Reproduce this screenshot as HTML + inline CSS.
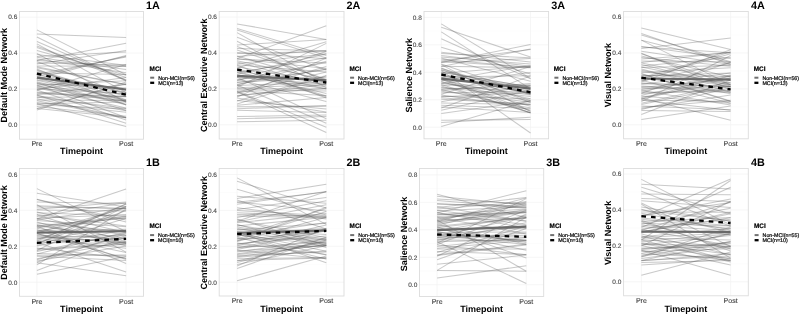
<!DOCTYPE html>
<html><head><meta charset="utf-8"><style>
html,body{margin:0;padding:0;background:#fff;width:800px;height:314px;overflow:hidden}
svg{display:block;filter:blur(0.3px)}
text{font-family:"Liberation Sans", sans-serif;text-rendering:geometricPrecision}
.tk{font-size:6.5px;fill:#4a4a4a;stroke:#4a4a4a;stroke-width:0.12px}
.tx{font-size:7px;fill:#444;stroke:#444;stroke-width:0.12px}
.ti{font-size:9px;font-weight:bold;fill:#000}
.lb{font-size:10.8px;font-weight:bold;fill:#000}
.lt{font-size:6.4px;font-weight:bold;fill:#000;stroke:#000;stroke-width:0.2px}
.le{font-size:5.3px;fill:#111;stroke:#111;stroke-width:0.24px}
</style></head><body>
<svg width="800" height="314" viewBox="0 0 800 314">
<rect width="800" height="314" fill="#fff"/>
<g><line x1="19.5" x2="143.5" y1="107.03" y2="107.03" stroke="#f8f8f8" stroke-width="0.5"/><line x1="19.5" x2="143.5" y1="71.07" y2="71.07" stroke="#f8f8f8" stroke-width="0.5"/><line x1="19.5" x2="143.5" y1="35.12" y2="35.12" stroke="#f8f8f8" stroke-width="0.5"/><line x1="19.5" x2="143.5" y1="125" y2="125" stroke="#f2f2f2" stroke-width="0.7"/><line x1="19.5" x2="143.5" y1="89.05" y2="89.05" stroke="#f2f2f2" stroke-width="0.7"/><line x1="19.5" x2="143.5" y1="53.1" y2="53.1" stroke="#f2f2f2" stroke-width="0.7"/><line x1="19.5" x2="143.5" y1="17.15" y2="17.15" stroke="#f2f2f2" stroke-width="0.7"/><line x1="36.9" x2="36.9" y1="11.5" y2="139.2" stroke="#f2f2f2" stroke-width="0.7"/><line x1="126.1" x2="126.1" y1="11.5" y2="139.2" stroke="#f2f2f2" stroke-width="0.7"/><g stroke="#5a5a5a" stroke-opacity="0.33" stroke-width="1.05" fill="none"><path d="M36.9 29.9L126.1 74.7"/><path d="M36.9 34.1L126.1 37.4"/><path d="M36.9 37L126.1 81"/><path d="M36.9 41.6L126.1 80"/><path d="M36.9 60.4L126.1 43.2"/><path d="M36.9 110L126.1 82"/><path d="M36.9 103.8L126.1 126.6"/><path d="M36.9 95L126.1 123.3"/><path d="M36.9 90L126.1 120"/><path d="M36.9 85L126.1 117.5"/><path d="M36.9 43.9L126.1 92.5"/><path d="M36.9 46L126.1 80.3"/><path d="M36.9 47.6L126.1 77.5"/><path d="M36.9 50.6L126.1 75.2"/><path d="M36.9 53.4L126.1 102.2"/><path d="M36.9 54.5L126.1 65.3"/><path d="M36.9 56.4L126.1 51.9"/><path d="M36.9 57.3L126.1 69.5"/><path d="M36.9 59.1L126.1 72.8"/><path d="M36.9 60.4L126.1 66.5"/><path d="M36.9 61.4L126.1 94.4"/><path d="M36.9 62.9L126.1 65.1"/><path d="M36.9 63.9L126.1 50.6"/><path d="M36.9 66L126.1 66.3"/><path d="M36.9 66.7L126.1 84.6"/><path d="M36.9 67.8L126.1 84.7"/><path d="M36.9 69.1L126.1 104.9"/><path d="M36.9 70.1L126.1 96.4"/><path d="M36.9 70.7L126.1 99.8"/><path d="M36.9 72.3L126.1 92.6"/><path d="M36.9 73L126.1 74.5"/><path d="M36.9 74.3L126.1 57"/><path d="M36.9 74.6L126.1 90.5"/><path d="M36.9 75.7L126.1 100.7"/><path d="M36.9 76.3L126.1 56.2"/><path d="M36.9 78L126.1 101.6"/><path d="M36.9 78.7L126.1 55.4"/><path d="M36.9 79.8L126.1 92.6"/><path d="M36.9 80.3L126.1 100"/><path d="M36.9 81.7L126.1 104.2"/><path d="M36.9 82.5L126.1 110.5"/><path d="M36.9 83.5L126.1 104.8"/><path d="M36.9 83.7L126.1 87.9"/><path d="M36.9 85.3L126.1 80.8"/><path d="M36.9 86.3L126.1 94"/><path d="M36.9 87.1L126.1 101.8"/><path d="M36.9 87.7L126.1 107.9"/><path d="M36.9 88.8L126.1 94"/><path d="M36.9 89.4L126.1 77.4"/><path d="M36.9 90.3L126.1 64.4"/><path d="M36.9 91.9L126.1 100.7"/><path d="M36.9 92.7L126.1 96.5"/><path d="M36.9 93.9L126.1 96.6"/><path d="M36.9 94.3L126.1 84.5"/><path d="M36.9 95.5L126.1 110.8"/><path d="M36.9 96.9L126.1 108.4"/><path d="M36.9 97.3L126.1 96.8"/><path d="M36.9 98.8L126.1 117.7"/><path d="M36.9 99.9L126.1 100.5"/><path d="M36.9 100.8L126.1 117.9"/><path d="M36.9 102.6L126.1 112.3"/><path d="M36.9 103.7L126.1 101.9"/><path d="M36.9 104.7L126.1 109"/><path d="M36.9 106.6L126.1 116.2"/><path d="M36.9 108.4L126.1 117.5"/><path d="M36.9 108.6L126.1 83.6"/></g><line x1="36.9" x2="126.1" y1="77.6" y2="89.5" stroke="#6a6a6a" stroke-width="2.2"/><line x1="36.9" x2="126.1" y1="73.6" y2="94.75" stroke="#000" stroke-width="2.3" stroke-dasharray="4.6 5.05"/><rect x="19.5" y="11.5" width="124" height="127.7" fill="none" stroke="#dcdcdc" stroke-width="0.9"/><text x="17.3" y="127.3" text-anchor="end" class="tk">0.0</text><text x="17.3" y="91.35" text-anchor="end" class="tk">0.2</text><text x="17.3" y="55.4" text-anchor="end" class="tk">0.4</text><text x="17.3" y="19.45" text-anchor="end" class="tk">0.6</text><text x="36.9" y="146" text-anchor="middle" class="tx">Pre</text><text x="126.1" y="146" text-anchor="middle" class="tx">Post</text><text x="81.5" y="154.2" text-anchor="middle" class="ti">Timepoint</text><text transform="translate(7.3 75.35) rotate(-90)" text-anchor="middle" class="ti">Default Mode Network</text><text x="146.1" y="8.9" class="lb">1A</text><text x="149.6" y="70.7" class="lt">MCI</text><line x1="150.2" x2="154.2" y1="77.7" y2="77.7" stroke="#707070" stroke-width="2"/><line x1="150.2" x2="154.2" y1="82.8" y2="82.8" stroke="#000" stroke-width="2.3"/><text x="158.2" y="79.7" class="le">Non-MCI(n=56)</text><text x="158.2" y="84.8" class="le">MCI(n=13)</text></g><g><line x1="219.2" x2="344" y1="106.85" y2="106.85" stroke="#f8f8f8" stroke-width="0.5"/><line x1="219.2" x2="344" y1="70.95" y2="70.95" stroke="#f8f8f8" stroke-width="0.5"/><line x1="219.2" x2="344" y1="35.05" y2="35.05" stroke="#f8f8f8" stroke-width="0.5"/><line x1="219.2" x2="344" y1="124.8" y2="124.8" stroke="#f2f2f2" stroke-width="0.7"/><line x1="219.2" x2="344" y1="88.9" y2="88.9" stroke="#f2f2f2" stroke-width="0.7"/><line x1="219.2" x2="344" y1="53" y2="53" stroke="#f2f2f2" stroke-width="0.7"/><line x1="219.2" x2="344" y1="17.1" y2="17.1" stroke="#f2f2f2" stroke-width="0.7"/><line x1="237.1" x2="237.1" y1="11.5" y2="139" stroke="#f2f2f2" stroke-width="0.7"/><line x1="326.3" x2="326.3" y1="11.5" y2="139" stroke="#f2f2f2" stroke-width="0.7"/><g stroke="#5a5a5a" stroke-opacity="0.33" stroke-width="1.05" fill="none"><path d="M237.1 23.9L326.3 39.5"/><path d="M237.1 58.6L326.3 25.8"/><path d="M237.1 28.5L326.3 55.4"/><path d="M237.1 30L326.3 58"/><path d="M237.1 32.6L326.3 83.6"/><path d="M237.1 37.2L326.3 70"/><path d="M237.1 121.8L326.3 120.3"/><path d="M237.1 118.8L326.3 116.5"/><path d="M237.1 116.5L326.3 115"/><path d="M237.1 91.7L326.3 132.5"/><path d="M237.1 91.4L326.3 127.2"/><path d="M237.1 85L326.3 123.3"/><path d="M237.1 41.2L326.3 87.6"/><path d="M237.1 44.9L326.3 39.4"/><path d="M237.1 46.4L326.3 80.2"/><path d="M237.1 48.5L326.3 50.8"/><path d="M237.1 49.9L326.3 79.3"/><path d="M237.1 52.5L326.3 58.8"/><path d="M237.1 53.4L326.3 51.4"/><path d="M237.1 56L326.3 82"/><path d="M237.1 56.4L326.3 50.4"/><path d="M237.1 58.8L326.3 68.4"/><path d="M237.1 59L326.3 63"/><path d="M237.1 60.7L326.3 80.1"/><path d="M237.1 62.1L326.3 85.8"/><path d="M237.1 63.7L326.3 53.8"/><path d="M237.1 64.8L326.3 72.1"/><path d="M237.1 65.3L326.3 98"/><path d="M237.1 66.8L326.3 82.6"/><path d="M237.1 68.1L326.3 41.7"/><path d="M237.1 68.4L326.3 96"/><path d="M237.1 70.2L326.3 88.7"/><path d="M237.1 71.2L326.3 96.7"/><path d="M237.1 72.4L326.3 93.6"/><path d="M237.1 72.6L326.3 57.8"/><path d="M237.1 74.2L326.3 53.9"/><path d="M237.1 74.9L326.3 86.9"/><path d="M237.1 76.4L326.3 88.7"/><path d="M237.1 77.2L326.3 118.8"/><path d="M237.1 77.4L326.3 83.9"/><path d="M237.1 79.3L326.3 101.5"/><path d="M237.1 80.2L326.3 62.4"/><path d="M237.1 80.7L326.3 51.5"/><path d="M237.1 82.3L326.3 77.3"/><path d="M237.1 82.5L326.3 69.4"/><path d="M237.1 84.3L326.3 69.1"/><path d="M237.1 85L326.3 61.3"/><path d="M237.1 85.4L326.3 82.5"/><path d="M237.1 87.3L326.3 43.4"/><path d="M237.1 87.8L326.3 84.4"/><path d="M237.1 88.6L326.3 89"/><path d="M237.1 89.8L326.3 91.1"/><path d="M237.1 90.9L326.3 95.5"/><path d="M237.1 92.4L326.3 66.4"/><path d="M237.1 93.4L326.3 72"/><path d="M237.1 95.4L326.3 88.2"/><path d="M237.1 96L326.3 84.3"/><path d="M237.1 96.9L326.3 58.1"/><path d="M237.1 98.1L326.3 112.1"/><path d="M237.1 100.5L326.3 109.1"/><path d="M237.1 101.1L326.3 75.6"/><path d="M237.1 104L326.3 76"/><path d="M237.1 105.3L326.3 97.4"/><path d="M237.1 106.8L326.3 106.2"/><path d="M237.1 108.8L326.3 105.6"/><path d="M237.1 110.3L326.3 112.5"/></g><line x1="237.1" x2="326.3" y1="75.8" y2="80.3" stroke="#6a6a6a" stroke-width="2.2"/><line x1="237.1" x2="326.3" y1="69.6" y2="82.5" stroke="#000" stroke-width="2.3" stroke-dasharray="4.6 5.05"/><rect x="219.2" y="11.5" width="124.8" height="127.5" fill="none" stroke="#dcdcdc" stroke-width="0.9"/><text x="217" y="127.1" text-anchor="end" class="tk">0.0</text><text x="217" y="91.2" text-anchor="end" class="tk">0.2</text><text x="217" y="55.3" text-anchor="end" class="tk">0.4</text><text x="217" y="19.4" text-anchor="end" class="tk">0.6</text><text x="237.1" y="145.8" text-anchor="middle" class="tx">Pre</text><text x="326.3" y="145.8" text-anchor="middle" class="tx">Post</text><text x="281.6" y="154" text-anchor="middle" class="ti">Timepoint</text><text transform="translate(207 75.25) rotate(-90)" text-anchor="middle" class="ti">Central Executive Network</text><text x="346.6" y="8.9" class="lb">2A</text><text x="349.5" y="70.7" class="lt">MCI</text><line x1="350.1" x2="354.1" y1="77.7" y2="77.7" stroke="#707070" stroke-width="2"/><line x1="350.1" x2="354.1" y1="82.8" y2="82.8" stroke="#000" stroke-width="2.3"/><text x="358.1" y="79.7" class="le">Non-MCI(n=56)</text><text x="358.1" y="84.8" class="le">MCI(n=13)</text></g><g><line x1="424" x2="548.6" y1="113.48" y2="113.48" stroke="#f8f8f8" stroke-width="0.5"/><line x1="424" x2="548.6" y1="86.03" y2="86.03" stroke="#f8f8f8" stroke-width="0.5"/><line x1="424" x2="548.6" y1="58.58" y2="58.58" stroke="#f8f8f8" stroke-width="0.5"/><line x1="424" x2="548.6" y1="31.12" y2="31.12" stroke="#f8f8f8" stroke-width="0.5"/><line x1="424" x2="548.6" y1="127.2" y2="127.2" stroke="#f2f2f2" stroke-width="0.7"/><line x1="424" x2="548.6" y1="99.75" y2="99.75" stroke="#f2f2f2" stroke-width="0.7"/><line x1="424" x2="548.6" y1="72.3" y2="72.3" stroke="#f2f2f2" stroke-width="0.7"/><line x1="424" x2="548.6" y1="44.85" y2="44.85" stroke="#f2f2f2" stroke-width="0.7"/><line x1="424" x2="548.6" y1="17.4" y2="17.4" stroke="#f2f2f2" stroke-width="0.7"/><line x1="441.3" x2="441.3" y1="11.5" y2="138.8" stroke="#f2f2f2" stroke-width="0.7"/><line x1="530.5" x2="530.5" y1="11.5" y2="138.8" stroke="#f2f2f2" stroke-width="0.7"/><g stroke="#5a5a5a" stroke-opacity="0.33" stroke-width="1.05" fill="none"><path d="M441.3 23.9L530.5 78.4"/><path d="M441.3 27.3L530.5 57.1"/><path d="M441.3 31.9L530.5 88.9"/><path d="M441.3 38.8L530.5 78.8"/><path d="M441.3 47.2L530.5 74"/><path d="M441.3 62.5L530.5 44.6"/><path d="M441.3 61L530.5 49.5"/><path d="M441.3 70.6L530.5 133"/><path d="M441.3 126.4L530.5 100.6"/><path d="M441.3 120.3L530.5 119.5"/><path d="M441.3 122.6L530.5 117.2"/><path d="M441.3 113.4L530.5 101"/><path d="M441.3 110.3L530.5 90"/><path d="M441.3 52.3L530.5 62.1"/><path d="M441.3 53.5L530.5 57.8"/><path d="M441.3 55.4L530.5 66.2"/><path d="M441.3 57L530.5 64.1"/><path d="M441.3 58.1L530.5 81.3"/><path d="M441.3 59.3L530.5 67.6"/><path d="M441.3 61.2L530.5 67.3"/><path d="M441.3 62.5L530.5 58.6"/><path d="M441.3 64L530.5 94.2"/><path d="M441.3 64.6L530.5 111.6"/><path d="M441.3 66.3L530.5 67.7"/><path d="M441.3 66.5L530.5 48.9"/><path d="M441.3 68L530.5 102.6"/><path d="M441.3 68.4L530.5 94.5"/><path d="M441.3 69.5L530.5 100.8"/><path d="M441.3 70.3L530.5 92.1"/><path d="M441.3 71.9L530.5 87.1"/><path d="M441.3 72.5L530.5 87"/><path d="M441.3 73.3L530.5 66.3"/><path d="M441.3 74.4L530.5 87.8"/><path d="M441.3 75.3L530.5 93.7"/><path d="M441.3 75.6L530.5 93.4"/><path d="M441.3 76.9L530.5 75.8"/><path d="M441.3 77.2L530.5 92.9"/><path d="M441.3 78.3L530.5 110.9"/><path d="M441.3 79.2L530.5 112.9"/><path d="M441.3 79.7L530.5 98.8"/><path d="M441.3 80.7L530.5 65.5"/><path d="M441.3 81.6L530.5 106.2"/><path d="M441.3 81.9L530.5 101.4"/><path d="M441.3 83.2L530.5 94.9"/><path d="M441.3 83.6L530.5 72.6"/><path d="M441.3 84.5L530.5 112.8"/><path d="M441.3 85.3L530.5 84.9"/><path d="M441.3 86.1L530.5 112.8"/><path d="M441.3 87.6L530.5 96.4"/><path d="M441.3 88L530.5 89.9"/><path d="M441.3 89.3L530.5 85.2"/><path d="M441.3 89.5L530.5 109.9"/><path d="M441.3 90.6L530.5 83.5"/><path d="M441.3 91.3L530.5 102.3"/><path d="M441.3 92.7L530.5 91.5"/><path d="M441.3 94.2L530.5 66.4"/><path d="M441.3 94.9L530.5 107.7"/><path d="M441.3 96.2L530.5 98.9"/><path d="M441.3 96.7L530.5 92.7"/><path d="M441.3 97.8L530.5 104.7"/><path d="M441.3 99.3L530.5 104"/><path d="M441.3 101.8L530.5 85.4"/><path d="M441.3 103L530.5 104.5"/><path d="M441.3 105.3L530.5 108.4"/><path d="M441.3 107L530.5 112.4"/><path d="M441.3 108.1L530.5 76.1"/></g><line x1="441.3" x2="530.5" y1="78.6" y2="88.6" stroke="#6a6a6a" stroke-width="2.2"/><line x1="441.3" x2="530.5" y1="74.5" y2="92.3" stroke="#000" stroke-width="2.3" stroke-dasharray="4.6 5.05"/><rect x="424" y="11.5" width="124.6" height="127.3" fill="none" stroke="#dcdcdc" stroke-width="0.9"/><text x="421.8" y="129.5" text-anchor="end" class="tk">0.0</text><text x="421.8" y="102.05" text-anchor="end" class="tk">0.2</text><text x="421.8" y="74.6" text-anchor="end" class="tk">0.4</text><text x="421.8" y="47.15" text-anchor="end" class="tk">0.6</text><text x="421.8" y="19.7" text-anchor="end" class="tk">0.8</text><text x="441.3" y="145.6" text-anchor="middle" class="tx">Pre</text><text x="530.5" y="145.6" text-anchor="middle" class="tx">Post</text><text x="486.3" y="153.8" text-anchor="middle" class="ti">Timepoint</text><text transform="translate(411.8 75.15) rotate(-90)" text-anchor="middle" class="ti">Salience Network</text><text x="551.2" y="8.9" class="lb">3A</text><text x="553.8" y="70.7" class="lt">MCI</text><line x1="554.4" x2="558.4" y1="77.7" y2="77.7" stroke="#707070" stroke-width="2"/><line x1="554.4" x2="558.4" y1="82.8" y2="82.8" stroke="#000" stroke-width="2.3"/><text x="562.4" y="79.7" class="le">Non-MCI(n=56)</text><text x="562.4" y="84.8" class="le">MCI(n=13)</text></g><g><line x1="623.6" x2="748.3" y1="106.85" y2="106.85" stroke="#f8f8f8" stroke-width="0.5"/><line x1="623.6" x2="748.3" y1="70.95" y2="70.95" stroke="#f8f8f8" stroke-width="0.5"/><line x1="623.6" x2="748.3" y1="35.05" y2="35.05" stroke="#f8f8f8" stroke-width="0.5"/><line x1="623.6" x2="748.3" y1="124.8" y2="124.8" stroke="#f2f2f2" stroke-width="0.7"/><line x1="623.6" x2="748.3" y1="88.9" y2="88.9" stroke="#f2f2f2" stroke-width="0.7"/><line x1="623.6" x2="748.3" y1="53" y2="53" stroke="#f2f2f2" stroke-width="0.7"/><line x1="623.6" x2="748.3" y1="17.1" y2="17.1" stroke="#f2f2f2" stroke-width="0.7"/><line x1="641.4" x2="641.4" y1="11.5" y2="138.8" stroke="#f2f2f2" stroke-width="0.7"/><line x1="730.6" x2="730.6" y1="11.5" y2="138.8" stroke="#f2f2f2" stroke-width="0.7"/><g stroke="#5a5a5a" stroke-opacity="0.33" stroke-width="1.05" fill="none"><path d="M641.4 28.1L730.6 49.5"/><path d="M641.4 48.4L730.6 38"/><path d="M641.4 33.4L730.6 64.6"/><path d="M641.4 35L730.6 61.7"/><path d="M641.4 40.3L730.6 62.5"/><path d="M641.4 119.5L730.6 106"/><path d="M641.4 114.6L730.6 80"/><path d="M641.4 98L730.6 120.3"/><path d="M641.4 100L730.6 110.3"/><path d="M641.4 40.1L730.6 84.9"/><path d="M641.4 46.5L730.6 58.6"/><path d="M641.4 47.1L730.6 52.7"/><path d="M641.4 51.3L730.6 64.5"/><path d="M641.4 53.2L730.6 89.6"/><path d="M641.4 53.8L730.6 84.8"/><path d="M641.4 56L730.6 77"/><path d="M641.4 57.5L730.6 66.3"/><path d="M641.4 59L730.6 52.8"/><path d="M641.4 61L730.6 62"/><path d="M641.4 62.4L730.6 52"/><path d="M641.4 62.9L730.6 80.6"/><path d="M641.4 64.5L730.6 86"/><path d="M641.4 65.9L730.6 57.5"/><path d="M641.4 67L730.6 84.7"/><path d="M641.4 67.6L730.6 65.6"/><path d="M641.4 69L730.6 92.3"/><path d="M641.4 70.2L730.6 86.8"/><path d="M641.4 71.6L730.6 83"/><path d="M641.4 72.6L730.6 67.7"/><path d="M641.4 73.4L730.6 101"/><path d="M641.4 74L730.6 101.5"/><path d="M641.4 75.6L730.6 76.3"/><path d="M641.4 75.9L730.6 73.1"/><path d="M641.4 77L730.6 93.8"/><path d="M641.4 77.8L730.6 51.9"/><path d="M641.4 79.1L730.6 53.7"/><path d="M641.4 80.2L730.6 103.3"/><path d="M641.4 81.1L730.6 63.3"/><path d="M641.4 82.1L730.6 49.7"/><path d="M641.4 82.9L730.6 86.5"/><path d="M641.4 83.8L730.6 86.5"/><path d="M641.4 84.3L730.6 72.9"/><path d="M641.4 85.9L730.6 90.8"/><path d="M641.4 86.8L730.6 92.6"/><path d="M641.4 87.5L730.6 79.1"/><path d="M641.4 88.7L730.6 86.8"/><path d="M641.4 89.5L730.6 78.1"/><path d="M641.4 90.5L730.6 105.1"/><path d="M641.4 91.3L730.6 75"/><path d="M641.4 92.3L730.6 91.7"/><path d="M641.4 93.2L730.6 62"/><path d="M641.4 93.6L730.6 89.7"/><path d="M641.4 95.3L730.6 76.2"/><path d="M641.4 95.9L730.6 103.3"/><path d="M641.4 97.2L730.6 82.3"/><path d="M641.4 98.6L730.6 75.6"/><path d="M641.4 99.2L730.6 78"/><path d="M641.4 100.1L730.6 101.6"/><path d="M641.4 101.6L730.6 55.5"/><path d="M641.4 103.2L730.6 83.7"/><path d="M641.4 104.4L730.6 86"/><path d="M641.4 105.9L730.6 109.8"/><path d="M641.4 107.2L730.6 100.2"/><path d="M641.4 108.5L730.6 94.9"/><path d="M641.4 109.5L730.6 87.5"/><path d="M641.4 110.6L730.6 111.4"/></g><line x1="641.4" x2="730.6" y1="78.5" y2="79.6" stroke="#6a6a6a" stroke-width="2.2"/><line x1="641.4" x2="730.6" y1="77.7" y2="89.4" stroke="#000" stroke-width="2.3" stroke-dasharray="4.6 5.05"/><rect x="623.6" y="11.5" width="124.7" height="127.3" fill="none" stroke="#dcdcdc" stroke-width="0.9"/><text x="621.4" y="127.1" text-anchor="end" class="tk">0.0</text><text x="621.4" y="91.2" text-anchor="end" class="tk">0.2</text><text x="621.4" y="55.3" text-anchor="end" class="tk">0.4</text><text x="621.4" y="19.4" text-anchor="end" class="tk">0.6</text><text x="641.4" y="145.6" text-anchor="middle" class="tx">Pre</text><text x="730.6" y="145.6" text-anchor="middle" class="tx">Post</text><text x="685.95" y="153.8" text-anchor="middle" class="ti">Timepoint</text><text transform="translate(611.4 75.15) rotate(-90)" text-anchor="middle" class="ti">Visual Network</text><text x="750.9" y="8.9" class="lb">4A</text><text x="753.8" y="70.7" class="lt">MCI</text><line x1="754.4" x2="758.4" y1="77.7" y2="77.7" stroke="#707070" stroke-width="2"/><line x1="754.4" x2="758.4" y1="82.8" y2="82.8" stroke="#000" stroke-width="2.3"/><text x="762.4" y="79.7" class="le">Non-MCI(n=56)</text><text x="762.4" y="84.8" class="le">MCI(n=13)</text></g><g><line x1="19.5" x2="143.5" y1="264.22" y2="264.22" stroke="#f8f8f8" stroke-width="0.5"/><line x1="19.5" x2="143.5" y1="228.27" y2="228.27" stroke="#f8f8f8" stroke-width="0.5"/><line x1="19.5" x2="143.5" y1="192.32" y2="192.32" stroke="#f8f8f8" stroke-width="0.5"/><line x1="19.5" x2="143.5" y1="282.2" y2="282.2" stroke="#f2f2f2" stroke-width="0.7"/><line x1="19.5" x2="143.5" y1="246.25" y2="246.25" stroke="#f2f2f2" stroke-width="0.7"/><line x1="19.5" x2="143.5" y1="210.3" y2="210.3" stroke="#f2f2f2" stroke-width="0.7"/><line x1="19.5" x2="143.5" y1="174.35" y2="174.35" stroke="#f2f2f2" stroke-width="0.7"/><line x1="36.9" x2="36.9" y1="168.5" y2="296.3" stroke="#f2f2f2" stroke-width="0.7"/><line x1="126.1" x2="126.1" y1="168.5" y2="296.3" stroke="#f2f2f2" stroke-width="0.7"/><g stroke="#5a5a5a" stroke-opacity="0.33" stroke-width="1.05" fill="none"><path d="M36.9 188.6L126.1 231.5"/><path d="M36.9 193.2L126.1 206.9"/><path d="M36.9 219L126.1 188.9"/><path d="M36.9 199.6L126.1 222"/><path d="M36.9 274.2L126.1 256.6"/><path d="M36.9 270.4L126.1 237"/><path d="M36.9 262.8L126.1 275.8"/><path d="M36.9 242.4L126.1 271.9"/><path d="M36.9 226L126.1 263.5"/><path d="M36.9 199.3L126.1 219.9"/><path d="M36.9 202.1L126.1 203.5"/><path d="M36.9 204.7L126.1 252.1"/><path d="M36.9 205.8L126.1 208.7"/><path d="M36.9 207L126.1 208.3"/><path d="M36.9 209.2L126.1 202"/><path d="M36.9 210.1L126.1 211"/><path d="M36.9 211.9L126.1 232.6"/><path d="M36.9 212.7L126.1 215.9"/><path d="M36.9 214.6L126.1 226.1"/><path d="M36.9 215L126.1 241.7"/><path d="M36.9 216.4L126.1 202.7"/><path d="M36.9 218.2L126.1 214.4"/><path d="M36.9 218.4L126.1 235.4"/><path d="M36.9 219.8L126.1 207.8"/><path d="M36.9 220.6L126.1 226.8"/><path d="M36.9 221.9L126.1 246"/><path d="M36.9 223L126.1 231.8"/><path d="M36.9 224.4L126.1 242.7"/><path d="M36.9 225.4L126.1 238.3"/><path d="M36.9 225.7L126.1 217.8"/><path d="M36.9 227.1L126.1 216"/><path d="M36.9 227.7L126.1 218.1"/><path d="M36.9 228.3L126.1 242.8"/><path d="M36.9 229.4L126.1 259.5"/><path d="M36.9 230.4L126.1 229.2"/><path d="M36.9 231.3L126.1 216.4"/><path d="M36.9 232.8L126.1 207.9"/><path d="M36.9 233.5L126.1 258.5"/><path d="M36.9 233.8L126.1 252.4"/><path d="M36.9 235.1L126.1 239.1"/><path d="M36.9 235.8L126.1 242.9"/><path d="M36.9 236.7L126.1 243"/><path d="M36.9 238.1L126.1 235.2"/><path d="M36.9 238.3L126.1 248.3"/><path d="M36.9 239.8L126.1 206.3"/><path d="M36.9 240.9L126.1 204"/><path d="M36.9 241L126.1 238.6"/><path d="M36.9 242.3L126.1 243.5"/><path d="M36.9 243.7L126.1 210.5"/><path d="M36.9 244L126.1 204"/><path d="M36.9 245.3L126.1 218.3"/><path d="M36.9 246.1L126.1 230"/><path d="M36.9 247.9L126.1 258.3"/><path d="M36.9 248.8L126.1 243.9"/><path d="M36.9 249.9L126.1 244.2"/><path d="M36.9 250.5L126.1 206.4"/><path d="M36.9 251.4L126.1 232.9"/><path d="M36.9 253.5L126.1 256"/><path d="M36.9 253.9L126.1 231.9"/><path d="M36.9 255.2L126.1 255"/><path d="M36.9 256.3L126.1 260.4"/><path d="M36.9 258.8L126.1 241.3"/><path d="M36.9 259.7L126.1 235.8"/><path d="M36.9 260.9L126.1 245.9"/><path d="M36.9 262.3L126.1 233.8"/><path d="M36.9 264.9L126.1 209"/></g><line x1="36.9" x2="126.1" y1="232.7" y2="231.2" stroke="#6a6a6a" stroke-width="2.2"/><line x1="36.9" x2="126.1" y1="242.9" y2="238.9" stroke="#000" stroke-width="2.3" stroke-dasharray="4.6 5.05"/><rect x="19.5" y="168.5" width="124" height="127.8" fill="none" stroke="#dcdcdc" stroke-width="0.9"/><text x="17.3" y="284.5" text-anchor="end" class="tk">0.0</text><text x="17.3" y="248.55" text-anchor="end" class="tk">0.2</text><text x="17.3" y="212.6" text-anchor="end" class="tk">0.4</text><text x="17.3" y="176.65" text-anchor="end" class="tk">0.6</text><text x="36.9" y="303.5" text-anchor="middle" class="tx">Pre</text><text x="126.1" y="303.5" text-anchor="middle" class="tx">Post</text><text x="81.5" y="312.1" text-anchor="middle" class="ti">Timepoint</text><text transform="translate(7.3 232.4) rotate(-90)" text-anchor="middle" class="ti">Default Mode Network</text><text x="146.1" y="165.9" class="lb">1B</text><text x="149.5" y="228.1" class="lt">MCI</text><line x1="150.1" x2="154.1" y1="235.1" y2="235.1" stroke="#707070" stroke-width="2"/><line x1="150.1" x2="154.1" y1="240.2" y2="240.2" stroke="#000" stroke-width="2.3"/><text x="158.1" y="237.1" class="le">Non-MCI(n=55)</text><text x="158.1" y="242.2" class="le">MCI(n=10)</text></g><g><line x1="219.2" x2="344" y1="264.25" y2="264.25" stroke="#f8f8f8" stroke-width="0.5"/><line x1="219.2" x2="344" y1="228.35" y2="228.35" stroke="#f8f8f8" stroke-width="0.5"/><line x1="219.2" x2="344" y1="192.45" y2="192.45" stroke="#f8f8f8" stroke-width="0.5"/><line x1="219.2" x2="344" y1="282.2" y2="282.2" stroke="#f2f2f2" stroke-width="0.7"/><line x1="219.2" x2="344" y1="246.3" y2="246.3" stroke="#f2f2f2" stroke-width="0.7"/><line x1="219.2" x2="344" y1="210.4" y2="210.4" stroke="#f2f2f2" stroke-width="0.7"/><line x1="219.2" x2="344" y1="174.5" y2="174.5" stroke="#f2f2f2" stroke-width="0.7"/><line x1="237.1" x2="237.1" y1="168.5" y2="296" stroke="#f2f2f2" stroke-width="0.7"/><line x1="326.3" x2="326.3" y1="168.5" y2="296" stroke="#f2f2f2" stroke-width="0.7"/><g stroke="#5a5a5a" stroke-opacity="0.33" stroke-width="1.05" fill="none"><path d="M237.1 177.9L326.3 224.4"/><path d="M237.1 181.2L326.3 208"/><path d="M237.1 198.4L326.3 184.3"/><path d="M237.1 202.3L326.3 192"/><path d="M237.1 280.8L326.3 255.9"/><path d="M237.1 268.6L326.3 237.2"/><path d="M237.1 232L326.3 262.8"/><path d="M237.1 189.3L326.3 215"/><path d="M237.1 196.3L326.3 203.3"/><path d="M237.1 200L326.3 229"/><path d="M237.1 201.9L326.3 211.1"/><path d="M237.1 204.2L326.3 191.6"/><path d="M237.1 207.7L326.3 219"/><path d="M237.1 209.4L326.3 197.5"/><path d="M237.1 210.4L326.3 215.8"/><path d="M237.1 212.7L326.3 216.9"/><path d="M237.1 214.4L326.3 216.5"/><path d="M237.1 215.9L326.3 218.1"/><path d="M237.1 217.4L326.3 200.8"/><path d="M237.1 218.9L326.3 245.4"/><path d="M237.1 219.8L326.3 237.7"/><path d="M237.1 221.3L326.3 191.5"/><path d="M237.1 221.9L326.3 204.7"/><path d="M237.1 222.8L326.3 213.4"/><path d="M237.1 224.6L326.3 247.5"/><path d="M237.1 225L326.3 239.2"/><path d="M237.1 225.9L326.3 217.3"/><path d="M237.1 226.9L326.3 240.8"/><path d="M237.1 228.3L326.3 243.2"/><path d="M237.1 229.6L326.3 234.6"/><path d="M237.1 230.1L326.3 223.2"/><path d="M237.1 231.6L326.3 243.6"/><path d="M237.1 232.4L326.3 251.2"/><path d="M237.1 232.8L326.3 228.5"/><path d="M237.1 233.9L326.3 254.9"/><path d="M237.1 234.9L326.3 244.9"/><path d="M237.1 235.9L326.3 222.6"/><path d="M237.1 236.8L326.3 208.4"/><path d="M237.1 237.2L326.3 259.1"/><path d="M237.1 238.6L326.3 239.1"/><path d="M237.1 239L326.3 211.4"/><path d="M237.1 240.2L326.3 230.2"/><path d="M237.1 241.1L326.3 207.3"/><path d="M237.1 241.6L326.3 217.3"/><path d="M237.1 243L326.3 254.6"/><path d="M237.1 243.8L326.3 236.1"/><path d="M237.1 244.4L326.3 229.3"/><path d="M237.1 245.8L326.3 225"/><path d="M237.1 246.2L326.3 246"/><path d="M237.1 247.8L326.3 241.9"/><path d="M237.1 248L326.3 229.9"/><path d="M237.1 249.6L326.3 230.7"/><path d="M237.1 250.3L326.3 258.7"/><path d="M237.1 250.9L326.3 245.6"/><path d="M237.1 252L326.3 239"/><path d="M237.1 253.7L326.3 242.7"/><path d="M237.1 254.5L326.3 245.2"/><path d="M237.1 255.5L326.3 252"/><path d="M237.1 256.7L326.3 244.6"/><path d="M237.1 257.2L326.3 251.1"/><path d="M237.1 258.8L326.3 257.6"/><path d="M237.1 260.4L326.3 258.1"/><path d="M237.1 260.9L326.3 241.1"/><path d="M237.1 262.4L326.3 240.1"/><path d="M237.1 264.5L326.3 245.8"/><path d="M237.1 265.9L326.3 228.2"/></g><line x1="237.1" x2="326.3" y1="232.8" y2="230.3" stroke="#6a6a6a" stroke-width="2.2"/><line x1="237.1" x2="326.3" y1="234.1" y2="230.9" stroke="#000" stroke-width="2.3" stroke-dasharray="4.6 5.05"/><rect x="219.2" y="168.5" width="124.8" height="127.5" fill="none" stroke="#dcdcdc" stroke-width="0.9"/><text x="217" y="284.5" text-anchor="end" class="tk">0.0</text><text x="217" y="248.6" text-anchor="end" class="tk">0.2</text><text x="217" y="212.7" text-anchor="end" class="tk">0.4</text><text x="217" y="176.8" text-anchor="end" class="tk">0.6</text><text x="237.1" y="303.2" text-anchor="middle" class="tx">Pre</text><text x="326.3" y="303.2" text-anchor="middle" class="tx">Post</text><text x="281.6" y="311.8" text-anchor="middle" class="ti">Timepoint</text><text transform="translate(207 232.85) rotate(-90)" text-anchor="middle" class="ti">Central Executive Network</text><text x="346.6" y="165.9" class="lb">2B</text><text x="349.6" y="228.1" class="lt">MCI</text><line x1="350.2" x2="354.2" y1="235.1" y2="235.1" stroke="#707070" stroke-width="2"/><line x1="350.2" x2="354.2" y1="240.2" y2="240.2" stroke="#000" stroke-width="2.3"/><text x="358.2" y="237.1" class="le">Non-MCI(n=55)</text><text x="358.2" y="242.2" class="le">MCI(n=10)</text></g><g><line x1="419.5" x2="543.7" y1="270.97" y2="270.97" stroke="#f8f8f8" stroke-width="0.5"/><line x1="419.5" x2="543.7" y1="243.52" y2="243.52" stroke="#f8f8f8" stroke-width="0.5"/><line x1="419.5" x2="543.7" y1="216.07" y2="216.07" stroke="#f8f8f8" stroke-width="0.5"/><line x1="419.5" x2="543.7" y1="188.62" y2="188.62" stroke="#f8f8f8" stroke-width="0.5"/><line x1="419.5" x2="543.7" y1="284.7" y2="284.7" stroke="#f2f2f2" stroke-width="0.7"/><line x1="419.5" x2="543.7" y1="257.25" y2="257.25" stroke="#f2f2f2" stroke-width="0.7"/><line x1="419.5" x2="543.7" y1="229.8" y2="229.8" stroke="#f2f2f2" stroke-width="0.7"/><line x1="419.5" x2="543.7" y1="202.35" y2="202.35" stroke="#f2f2f2" stroke-width="0.7"/><line x1="419.5" x2="543.7" y1="174.9" y2="174.9" stroke="#f2f2f2" stroke-width="0.7"/><line x1="437.1" x2="437.1" y1="168.5" y2="296.5" stroke="#f2f2f2" stroke-width="0.7"/><line x1="526.3" x2="526.3" y1="168.5" y2="296.5" stroke="#f2f2f2" stroke-width="0.7"/><g stroke="#5a5a5a" stroke-opacity="0.33" stroke-width="1.05" fill="none"><path d="M437.1 194.2L526.3 217.5"/><path d="M437.1 213L526.3 190.7"/><path d="M437.1 278L526.3 265.8"/><path d="M437.1 270.4L526.3 217"/><path d="M437.1 270.4L526.3 271.2"/><path d="M437.1 264.3L526.3 255.1"/><path d="M437.1 259.7L526.3 228.4"/><path d="M437.1 256.3L526.3 214"/><path d="M437.1 241.7L526.3 283.4"/><path d="M437.1 220L526.3 271.2"/><path d="M437.1 196.3L526.3 205"/><path d="M437.1 199.1L526.3 203.9"/><path d="M437.1 200.6L526.3 207.6"/><path d="M437.1 203.5L526.3 208.1"/><path d="M437.1 204.2L526.3 206.2"/><path d="M437.1 206.5L526.3 221.1"/><path d="M437.1 207.4L526.3 197.5"/><path d="M437.1 209L526.3 201.8"/><path d="M437.1 210.4L526.3 221.2"/><path d="M437.1 210.7L526.3 206.9"/><path d="M437.1 212.7L526.3 227.9"/><path d="M437.1 212.8L526.3 224.8"/><path d="M437.1 214.7L526.3 209"/><path d="M437.1 214.8L526.3 212"/><path d="M437.1 216.5L526.3 212.7"/><path d="M437.1 217.2L526.3 233.9"/><path d="M437.1 218.1L526.3 210.7"/><path d="M437.1 219L526.3 204.9"/><path d="M437.1 220.1L526.3 218.6"/><path d="M437.1 220.5L526.3 202"/><path d="M437.1 221.7L526.3 197.9"/><path d="M437.1 221.8L526.3 211.7"/><path d="M437.1 222.8L526.3 209.6"/><path d="M437.1 223.8L526.3 212.2"/><path d="M437.1 224.6L526.3 244.3"/><path d="M437.1 225.6L526.3 203.1"/><path d="M437.1 226.3L526.3 217.4"/><path d="M437.1 226.7L526.3 257.9"/><path d="M437.1 227.5L526.3 217.8"/><path d="M437.1 228.3L526.3 228.7"/><path d="M437.1 229L526.3 242.4"/><path d="M437.1 230.3L526.3 227.5"/><path d="M437.1 231L526.3 215.6"/><path d="M437.1 231.6L526.3 250.3"/><path d="M437.1 232.4L526.3 232"/><path d="M437.1 232.7L526.3 240.5"/><path d="M437.1 234.2L526.3 240.8"/><path d="M437.1 234.8L526.3 237.2"/><path d="M437.1 235.4L526.3 244.5"/><path d="M437.1 236.7L526.3 216.6"/><path d="M437.1 237.4L526.3 235.2"/><path d="M437.1 237.8L526.3 225.8"/><path d="M437.1 239.1L526.3 233.1"/><path d="M437.1 239.8L526.3 241.1"/><path d="M437.1 240.6L526.3 222.7"/><path d="M437.1 241.8L526.3 239.2"/><path d="M437.1 243.2L526.3 198.6"/><path d="M437.1 244.6L526.3 210.3"/><path d="M437.1 245L526.3 254.8"/><path d="M437.1 246.5L526.3 237.4"/><path d="M437.1 248.2L526.3 240.5"/><path d="M437.1 248.9L526.3 248.9"/><path d="M437.1 251.5L526.3 254.6"/><path d="M437.1 252.6L526.3 226.1"/><path d="M437.1 254.8L526.3 244.1"/><path d="M437.1 255.6L526.3 244.9"/></g><line x1="437.1" x2="526.3" y1="230.1" y2="226.6" stroke="#6a6a6a" stroke-width="2.2"/><line x1="437.1" x2="526.3" y1="234.5" y2="236.75" stroke="#000" stroke-width="2.3" stroke-dasharray="4.6 5.05"/><rect x="419.5" y="168.5" width="124.2" height="128" fill="none" stroke="#dcdcdc" stroke-width="0.9"/><text x="417.3" y="287" text-anchor="end" class="tk">0.0</text><text x="417.3" y="259.55" text-anchor="end" class="tk">0.2</text><text x="417.3" y="232.1" text-anchor="end" class="tk">0.4</text><text x="417.3" y="204.65" text-anchor="end" class="tk">0.6</text><text x="417.3" y="177.2" text-anchor="end" class="tk">0.8</text><text x="437.1" y="303.7" text-anchor="middle" class="tx">Pre</text><text x="526.3" y="303.7" text-anchor="middle" class="tx">Post</text><text x="481.6" y="312.3" text-anchor="middle" class="ti">Timepoint</text><text transform="translate(407.3 233.9) rotate(-90)" text-anchor="middle" class="ti">Salience Network</text><text x="546.3" y="165.9" class="lb">3B</text><text x="549.6" y="228.1" class="lt">MCI</text><line x1="550.2" x2="554.2" y1="235.1" y2="235.1" stroke="#707070" stroke-width="2"/><line x1="550.2" x2="554.2" y1="240.2" y2="240.2" stroke="#000" stroke-width="2.3"/><text x="558.2" y="237.1" class="le">Non-MCI(n=55)</text><text x="558.2" y="242.2" class="le">MCI(n=10)</text></g><g><line x1="623.6" x2="748.3" y1="263.85" y2="263.85" stroke="#f8f8f8" stroke-width="0.5"/><line x1="623.6" x2="748.3" y1="227.95" y2="227.95" stroke="#f8f8f8" stroke-width="0.5"/><line x1="623.6" x2="748.3" y1="192.05" y2="192.05" stroke="#f8f8f8" stroke-width="0.5"/><line x1="623.6" x2="748.3" y1="281.8" y2="281.8" stroke="#f2f2f2" stroke-width="0.7"/><line x1="623.6" x2="748.3" y1="245.9" y2="245.9" stroke="#f2f2f2" stroke-width="0.7"/><line x1="623.6" x2="748.3" y1="210" y2="210" stroke="#f2f2f2" stroke-width="0.7"/><line x1="623.6" x2="748.3" y1="174.1" y2="174.1" stroke="#f2f2f2" stroke-width="0.7"/><line x1="641.4" x2="641.4" y1="168.5" y2="295.8" stroke="#f2f2f2" stroke-width="0.7"/><line x1="730.6" x2="730.6" y1="168.5" y2="295.8" stroke="#f2f2f2" stroke-width="0.7"/><g stroke="#5a5a5a" stroke-opacity="0.33" stroke-width="1.05" fill="none"><path d="M641.4 179.4L730.6 225"/><path d="M641.4 184.3L730.6 188.9"/><path d="M641.4 217.3L730.6 178.9"/><path d="M641.4 240L730.6 180.5"/><path d="M641.4 187.3L730.6 214"/><path d="M641.4 275.3L730.6 252"/><path d="M641.4 250.2L730.6 275.3"/><path d="M641.4 265L730.6 259"/><path d="M641.4 260.5L730.6 255.9"/><path d="M641.4 245.5L730.6 265"/><path d="M641.4 256.6L730.6 241.4"/><path d="M641.4 191.3L730.6 226.3"/><path d="M641.4 194L730.6 194.7"/><path d="M641.4 198.6L730.6 201.6"/><path d="M641.4 200.8L730.6 207.5"/><path d="M641.4 203L730.6 246.5"/><path d="M641.4 204.3L730.6 258.1"/><path d="M641.4 207L730.6 221.2"/><path d="M641.4 209.2L730.6 232.6"/><path d="M641.4 210.1L730.6 221.1"/><path d="M641.4 211.9L730.6 212.3"/><path d="M641.4 213.2L730.6 230"/><path d="M641.4 215.3L730.6 202.6"/><path d="M641.4 216.6L730.6 198.9"/><path d="M641.4 218L730.6 225.7"/><path d="M641.4 219.3L730.6 228.6"/><path d="M641.4 220.2L730.6 251.1"/><path d="M641.4 221.6L730.6 217.6"/><path d="M641.4 221.8L730.6 248.9"/><path d="M641.4 223.2L730.6 226.1"/><path d="M641.4 224.2L730.6 208.2"/><path d="M641.4 225.3L730.6 230.5"/><path d="M641.4 226.5L730.6 234.8"/><path d="M641.4 227.6L730.6 187.3"/><path d="M641.4 228.9L730.6 219.2"/><path d="M641.4 229.4L730.6 245.6"/><path d="M641.4 230.4L730.6 201.9"/><path d="M641.4 231.9L730.6 217.8"/><path d="M641.4 232.1L730.6 213.7"/><path d="M641.4 233L730.6 212.2"/><path d="M641.4 234L730.6 254.7"/><path d="M641.4 235.7L730.6 260.9"/><path d="M641.4 236.7L730.6 228.4"/><path d="M641.4 237.5L730.6 232.9"/><path d="M641.4 238.1L730.6 240.1"/><path d="M641.4 239.5L730.6 247"/><path d="M641.4 239.9L730.6 261.9"/><path d="M641.4 241.6L730.6 234.1"/><path d="M641.4 242.8L730.6 254.6"/><path d="M641.4 243.6L730.6 258.9"/><path d="M641.4 243.9L730.6 246.2"/><path d="M641.4 245.1L730.6 235.5"/><path d="M641.4 246.1L730.6 201.2"/><path d="M641.4 247.9L730.6 247"/><path d="M641.4 248.8L730.6 242.4"/><path d="M641.4 249.5L730.6 243.4"/><path d="M641.4 250.5L730.6 260.5"/><path d="M641.4 251.4L730.6 248.8"/><path d="M641.4 253.4L730.6 233.9"/><path d="M641.4 254L730.6 258"/><path d="M641.4 255.8L730.6 233.1"/><path d="M641.4 257L730.6 227.1"/><path d="M641.4 258.5L730.6 246.4"/><path d="M641.4 260.6L730.6 241.5"/><path d="M641.4 260.7L730.6 253.7"/><path d="M641.4 262.5L730.6 260.5"/></g><line x1="641.4" x2="730.6" y1="231.6" y2="232" stroke="#6a6a6a" stroke-width="2.2"/><line x1="641.4" x2="730.6" y1="216.2" y2="223" stroke="#000" stroke-width="2.3" stroke-dasharray="4.6 5.05"/><rect x="623.6" y="168.5" width="124.7" height="127.3" fill="none" stroke="#dcdcdc" stroke-width="0.9"/><text x="621.4" y="284.1" text-anchor="end" class="tk">0.0</text><text x="621.4" y="248.2" text-anchor="end" class="tk">0.2</text><text x="621.4" y="212.3" text-anchor="end" class="tk">0.4</text><text x="621.4" y="176.4" text-anchor="end" class="tk">0.6</text><text x="641.4" y="303" text-anchor="middle" class="tx">Pre</text><text x="730.6" y="303" text-anchor="middle" class="tx">Post</text><text x="685.95" y="311.6" text-anchor="middle" class="ti">Timepoint</text><text transform="translate(611.4 232.85) rotate(-90)" text-anchor="middle" class="ti">Visual Network</text><text x="750.9" y="165.9" class="lb">4B</text><text x="754" y="228.1" class="lt">MCI</text><line x1="754.6" x2="758.6" y1="235.1" y2="235.1" stroke="#707070" stroke-width="2"/><line x1="754.6" x2="758.6" y1="240.2" y2="240.2" stroke="#000" stroke-width="2.3"/><text x="762.6" y="237.1" class="le">Non-MCI(n=55)</text><text x="762.6" y="242.2" class="le">MCI(n=10)</text></g>
</svg></body></html>
